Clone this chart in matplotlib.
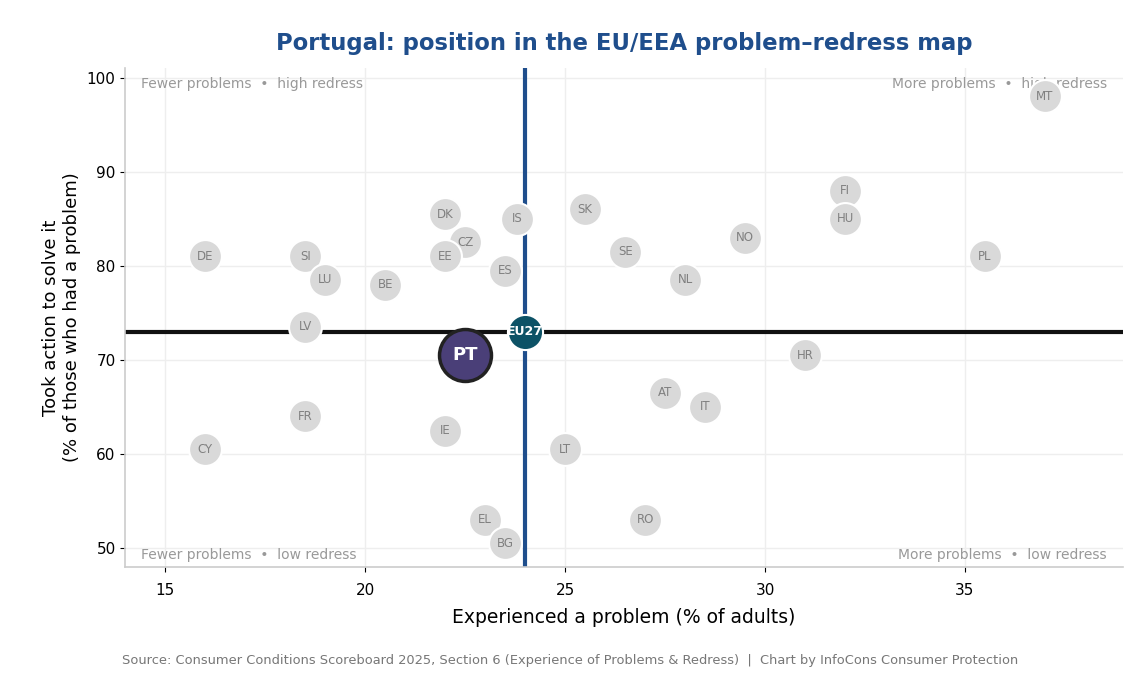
import matplotlib.pyplot as plt

# country codes, % who experienced a problem, % who took action
countries = ['DE', 'SI', 'LU', 'BE', 'DK', 'CZ', 'EE', 'ES', 'IS', 'SK', 'SE', 'NL',
             'NO', 'FI', 'HU', 'PL', 'MT', 'HR', 'LV', 'AT', 'IT', 'FR', 'IE', 'CY',
             'LT', 'EL', 'RO', 'BG']
problem = [16, 18.5, 19, 20.5, 22, 22.5, 22, 23.5, 23.8, 25.5, 26.5, 28,
           29.5, 32, 32, 35.5, 37, 31, 18.5, 27.5, 28.5, 18.5, 22, 16,
           25, 23, 27, 23.5]
action = [81, 81, 78.5, 78, 85.5, 82.5, 81, 79.5, 85, 86, 81.5, 78.5,
          83, 88, 85, 81, 98, 70.5, 73.5, 66.5, 65, 64, 62.5, 60.5,
          60.5, 53, 53, 50.5]

pt_problem, pt_action = 22.5, 70.5
eu_problem, eu_action = 24, 73

fig, ax = plt.subplots(figsize=(11.4, 6.75), dpi=100)
fig.subplots_adjust(left=0.11, right=0.985, bottom=0.16, top=0.899)

ax.grid(True, color='#eeeeee', linewidth=1)
ax.set_axisbelow(True)

ax.axhline(eu_action, color='#111111', linewidth=3, zorder=2)
ax.axvline(eu_problem, color='#1f4e8c', linewidth=3, zorder=2)

ax.scatter(problem, action, s=560, color='#d9d9d9', edgecolor='white', linewidth=1.5, zorder=3)
for c, x, y in zip(countries, problem, action):
    ax.text(x, y, c, ha='center', va='center', fontsize=8.5, color='#808080', zorder=4)

ax.scatter([eu_problem], [eu_action], s=640, color='#0d5266', edgecolor='white', linewidth=1.5, zorder=5)
ax.text(eu_problem, eu_action, 'EU27', ha='center', va='center', fontsize=9,
        fontweight='bold', color='white', zorder=6)

ax.scatter([pt_problem], [pt_action], s=1400, color='#4a3f78', edgecolor='#222222', linewidth=2.5, zorder=5)
ax.text(pt_problem, pt_action, 'PT', ha='center', va='center', fontsize=13,
        fontweight='bold', color='white', zorder=6)

ax.set_xlim(14, 38.95)
ax.set_ylim(48, 101)
ax.set_xticks([15, 20, 25, 30, 35])
ax.set_yticks([50, 60, 70, 80, 90, 100])

corner = dict(fontsize=10, color='#999999', transform=ax.transAxes, zorder=1)
ax.text(0.016, 0.968, 'Fewer problems  \u2022  high redress', ha='left', va='center', **corner)
ax.text(0.984, 0.968, 'More problems  \u2022  high redress', ha='right', va='center', **corner)
ax.text(0.016, 0.025, 'Fewer problems  \u2022  low redress', ha='left', va='center', **corner)
ax.text(0.984, 0.025, 'More problems  \u2022  low redress', ha='right', va='center', **corner)

for side in ['top', 'right']:
    ax.spines[side].set_visible(False)
for side in ['left', 'bottom']:
    ax.spines[side].set_color('#cccccc')
    ax.spines[side].set_linewidth(1.2)
ax.tick_params(labelsize=11)
ax.tick_params(axis='x', pad=8)

ax.set_xlabel('Experienced a problem (% of adults)', fontsize=13.5, labelpad=7)
ax.set_ylabel('Took action to solve it\n(% of those who had a problem)', fontsize=13)
ax.set_title('Portugal: position in the EU/EEA problem\u2013redress map', fontsize=16.4,
             fontweight='bold', color='#1f4e8c', pad=13)

fig.text(0.5, 0.016, 'Source: Consumer Conditions Scoreboard 2025, Section 6 (Experience of Problems & Redress)  |  '
         'Chart by InfoCons Consumer Protection', ha='center', fontsize=9.4, color='#777777')

fig.savefig('out.png', dpi=100)
